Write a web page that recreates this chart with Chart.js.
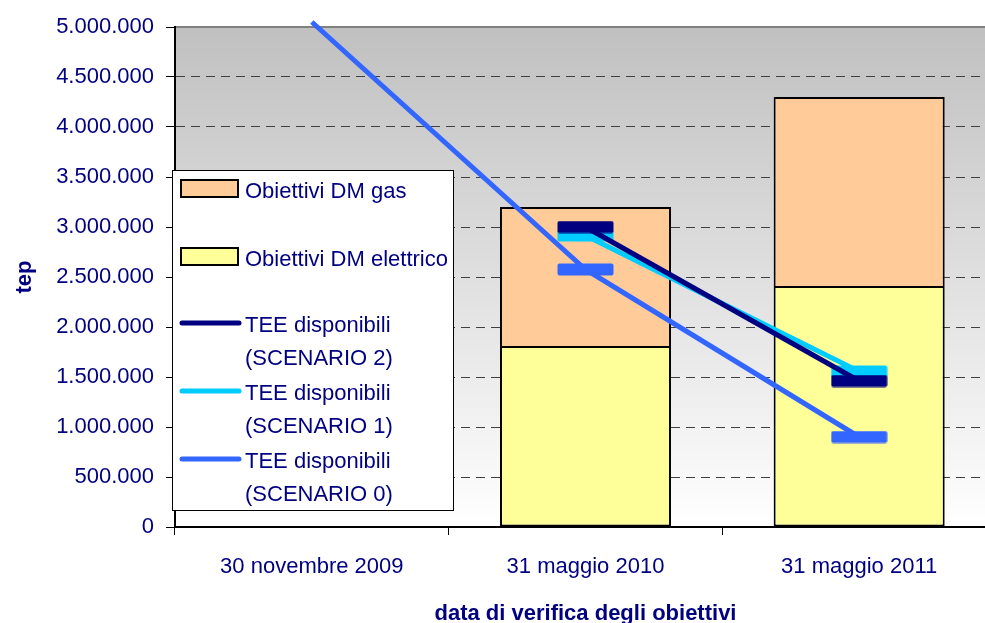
<!DOCTYPE html>
<html lang="it">
<head>
  <meta charset="UTF-8">
  <title>Obiettivi DM e TEE disponibili</title>
  <style>
    body {
      margin: 0;
      overflow: hidden;
      background: #ffffff;
    }
    #chart {
      display: block;
    }
  </style>
</head>
<body>

  <canvas id="chart" width="1007" height="623"></canvas>

  <script src="https://cdn.jsdelivr.net/npm/chart.js"></script>
  <script>
    // data
    const categories = ['30 novembre 2009', '31 maggio 2010', '31 maggio 2011'];
    const dmElettrico = [null, 1800000, 2400000];
    const dmGas = [null, 1400000, 1900000];
    const scenario2 = [null, 3000000, 1460000];
    const scenario1 = [null, 2915000, 1555000];
    const scenario0 = [5050000, 2575000, 900000];

    const FONT = "'Liberation Sans', Arial, sans-serif";
    const NAVY = '#000080';

    // formats 1500000 as 1.500.000
    function itNumber(v) {
      return String(Math.round(v)).replace(/\B(?=(\d{3})+(?!\d))/g, '.');
    }

    // flat bar-shaped marker used by the line series
    function makeMarker(color) {
      const c = document.createElement('canvas');
      c.width = 57;
      c.height = 13;
      const g = c.getContext('2d');
      g.fillStyle = color;
      g.beginPath();
      g.roundRect(0.5, 0.5, 56, 12, 2);
      g.fill();
      return c;
    }

    // gradient plot background and top border
    const plotBackground = {
      id: 'plotBackground',
      beforeDraw(chart) {
        const { ctx, chartArea: a } = chart;
        const grad = ctx.createLinearGradient(0, a.top, 0, a.bottom);
        grad.addColorStop(0, '#c0c0c0');
        grad.addColorStop(1, '#ffffff');
        ctx.save();
        ctx.fillStyle = grad;
        ctx.fillRect(a.left, a.top, a.right - a.left, a.bottom - a.top);
        ctx.strokeStyle = '#808080';
        ctx.lineWidth = 2;
        ctx.beginPath();
        ctx.moveTo(a.left, a.top);
        ctx.lineTo(a.right, a.top);
        ctx.stroke();
        ctx.restore();
      }
    };

    // legend box sitting inside the plot, like the original
    const boxLegend = {
      id: 'boxLegend',
      afterDraw(chart) {
        const ctx = chart.ctx;
        const order = [1, 0, 2, 3, 4];
        const rows = [189, 257, 323, 391, 459];
        ctx.save();
        ctx.fillStyle = '#ffffff';
        ctx.fillRect(172, 170, 282, 341);
        ctx.strokeStyle = '#000000';
        ctx.lineWidth = 1;
        ctx.strokeRect(172.5, 170.5, 281, 340);
        ctx.font = '22px ' + FONT;
        ctx.textBaseline = 'alphabetic';
        ctx.textAlign = 'left';
        order.forEach((di, i) => {
          const ds = chart.data.datasets[di];
          const y = rows[i];
          if (ds.type === 'line') {
            ctx.strokeStyle = ds.borderColor;
            ctx.lineWidth = 5;
            ctx.lineCap = 'round';
            ctx.beginPath();
            ctx.moveTo(182, y);
            ctx.lineTo(239, y);
            ctx.stroke();
          } else {
            ctx.fillStyle = ds.backgroundColor;
            ctx.fillRect(181, y - 9, 57, 17);
            ctx.strokeStyle = '#000000';
            ctx.lineWidth = 2;
            ctx.strokeRect(181, y - 9, 57, 17);
          }
          ctx.fillStyle = NAVY;
          const parts = ds.label.split(' (');
          ctx.fillText(parts[0], 245, y + 9);
          if (parts[1]) ctx.fillText('(' + parts[1], 245, y + 42);
        });
        ctx.restore();
      }
    };

    const lineDefaults = {
      type: 'line',
      borderWidth: 5,
      pointRadius: 6,
      pointHoverRadius: 6,
      spanGaps: false,
      tension: 0
    };

    const chart = new Chart(document.getElementById('chart'), {
      type: 'bar',
      data: {
        labels: categories,
        datasets: [
          {
            label: 'Obiettivi DM elettrico',
            data: dmElettrico,
            backgroundColor: '#ffff99',
            borderColor: '#000000',
            borderWidth: { top: 1, left: 2, right: 2, bottom: 2 },
            borderSkipped: false,
            stack: 'dm',
            order: 5
          },
          {
            label: 'Obiettivi DM gas',
            data: dmGas,
            backgroundColor: '#ffcc99',
            borderColor: '#000000',
            borderWidth: { top: 2, left: 2, right: 2, bottom: 1 },
            borderSkipped: false,
            stack: 'dm',
            order: 5
          },
          Object.assign({}, lineDefaults, {
            label: 'TEE disponibili (SCENARIO 2)',
            data: scenario2,
            borderColor: '#000080',
            pointStyle: makeMarker('#000080'),
            stack: 's2',
            order: 1
          }),
          Object.assign({}, lineDefaults, {
            label: 'TEE disponibili (SCENARIO 1)',
            data: scenario1,
            borderColor: '#00ccff',
            pointStyle: makeMarker('#00ccff'),
            stack: 's1',
            order: 2
          }),
          Object.assign({}, lineDefaults, {
            label: 'TEE disponibili (SCENARIO 0)',
            data: scenario0,
            borderColor: '#3366ff',
            pointStyle: makeMarker('#3366ff'),
            pointRadius: ctx => (ctx.dataIndex === 0 ? 0 : 6),
            clip: false,
            stack: 's0',
            order: 3
          })
        ]
      },
      options: {
        responsive: false,
        animation: false,
        layout: {
          padding: { top: 27, right: 3, left: 0, bottom: 0 }
        },
        plugins: {
          legend: { display: false },
          tooltip: { enabled: false }
        },
        datasets: {
          bar: { categoryPercentage: 1, barPercentage: 0.625 }
        },
        scales: {
          x: {
            stacked: true,
            offset: true,
            afterFit: scale => { scale.height = 96; },
            grid: {
              offset: true,
              drawOnChartArea: false,
              tickLength: 8,
              tickColor: '#000000'
            },
            border: { color: '#000000', width: 2 },
            ticks: {
              color: NAVY,
              padding: 19,
              font: { family: FONT, size: 22 }
            },
            title: {
              display: true,
              text: 'data di verifica degli obiettivi',
              color: NAVY,
              padding: { top: 0, bottom: -2 },
              font: { family: FONT, size: 22, weight: 'bold', lineHeight: 1 }
            }
          },
          y: {
            stacked: true,
            min: 0,
            max: 5000000,
            afterFit: scale => { scale.width = 175; },
            grid: {
              color: c => (c.tick && (c.tick.value === 0 || c.tick.value === 5000000)) ? 'rgba(0,0,0,0)' : '#404040',
              lineWidth: 1,
              tickLength: 9,
              tickColor: '#000000',
              tickBorderDash: []
            },
            border: { color: '#000000', width: 2, dash: [9, 6] },
            ticks: {
              stepSize: 500000,
              color: NAVY,
              padding: 12,
              font: { family: FONT, size: 22 },
              callback: v => itNumber(v)
            },
            title: {
              display: true,
              text: 'tep',
              color: NAVY,
              padding: { top: 14, bottom: 0 },
              font: { family: FONT, size: 22, weight: 'bold', lineHeight: 1 }
            }
          }
        }
      },
      plugins: [plotBackground, boxLegend]
    });
  </script>
</body>
</html>
